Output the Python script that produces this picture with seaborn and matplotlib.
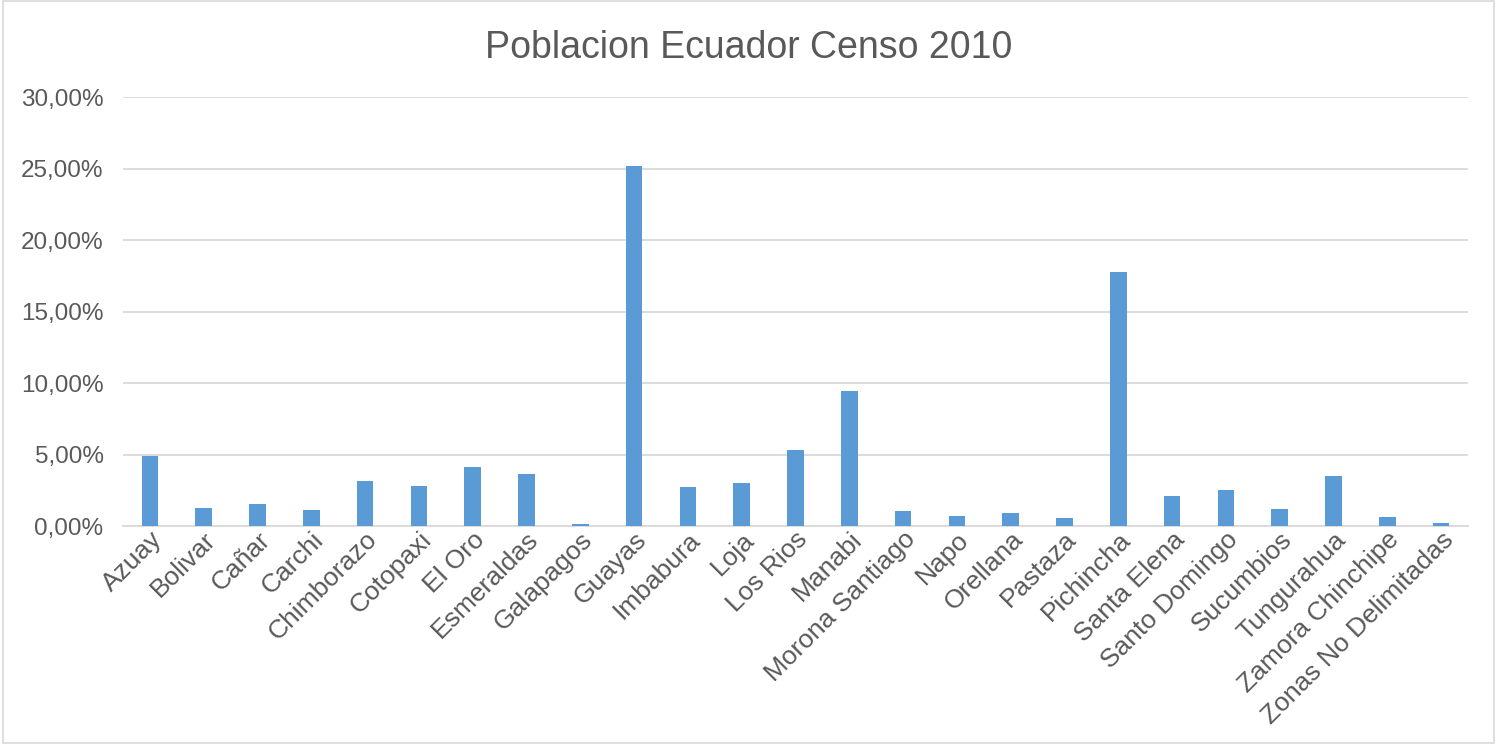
import matplotlib
matplotlib.use("Agg")
import matplotlib.pyplot as plt
import seaborn as sns
import pandas as pd
from matplotlib.ticker import FuncFormatter, MultipleLocator
from matplotlib.patches import Rectangle

provincias = ["Azuay", "Bolivar", "Cañar", "Carchi", "Chimborazo", "Cotopaxi", "El Oro",
              "Esmeraldas", "Galapagos", "Guayas", "Imbabura", "Loja", "Los Rios", "Manabi",
              "Morona Santiago", "Napo", "Orellana", "Pastaza", "Pichincha", "Santa Elena",
              "Santo Domingo", "Sucumbios", "Tungurahua", "Zamora Chinchipe", "Zonas No Delimitadas"]
porcentaje = [4.88, 1.26, 1.52, 1.12, 3.13, 2.80, 4.11,
              3.64, 0.16, 25.15, 2.71, 3.04, 5.35, 9.43,
              1.02, 0.69, 0.91, 0.57, 17.77, 2.10,
              2.50, 1.19, 3.48, 0.62, 0.22]
titulo = "Poblacion Ecuador Censo 2010"

df = pd.DataFrame({"provincia": provincias, "porcentaje": porcentaje})

sns.set_theme(style="white")
plt.rcParams["font.family"] = ["Liberation Sans", "DejaVu Sans"]

fig = plt.figure(figsize=(14.97, 7.44), dpi=100)
ax = fig.add_axes([0.0822, 0.293, 0.8984, 0.5766])

sns.barplot(data=df, x="provincia", y="porcentaje", color="#5B9BD5", width=0.31,
            saturation=1, ax=ax, zorder=3, linewidth=0)

ax.set_ylim(0, 30)
ax.set_xlim(-0.5, len(provincias) - 0.5)
ax.yaxis.set_major_locator(MultipleLocator(5))
ax.yaxis.set_major_formatter(FuncFormatter(lambda v, p: f"{v:.2f}".replace(".", ",") + "%"))
ax.grid(axis="y", color="#D9D9D9", linewidth=1.3, zorder=0)
ax.grid(axis="x", visible=False)
for s in ["top", "right", "left"]:
    ax.spines[s].set_visible(False)
ax.spines["bottom"].set_color("#D9D9D9")
ax.spines["bottom"].set_linewidth(1.3)
ax.set_xlabel("")
ax.set_ylabel("")
ax.tick_params(axis="both", length=0, colors="#595959")
ax.tick_params(axis="y", pad=14, labelsize=17.5)
ax.tick_params(axis="x", pad=1, labelsize=19)
plt.setp(ax.get_xticklabels(), rotation=45, ha="right", rotation_mode="anchor")

fig.text(0.5, 0.936, titulo, ha="center", va="center", fontsize=27, color="#595959")
fig.patches.append(Rectangle((0.002, 0.002), 0.996, 0.996, transform=fig.transFigure,
                             fill=False, edgecolor="#D9D9D9", linewidth=1.2))

fig.savefig("out.png", dpi=100)
